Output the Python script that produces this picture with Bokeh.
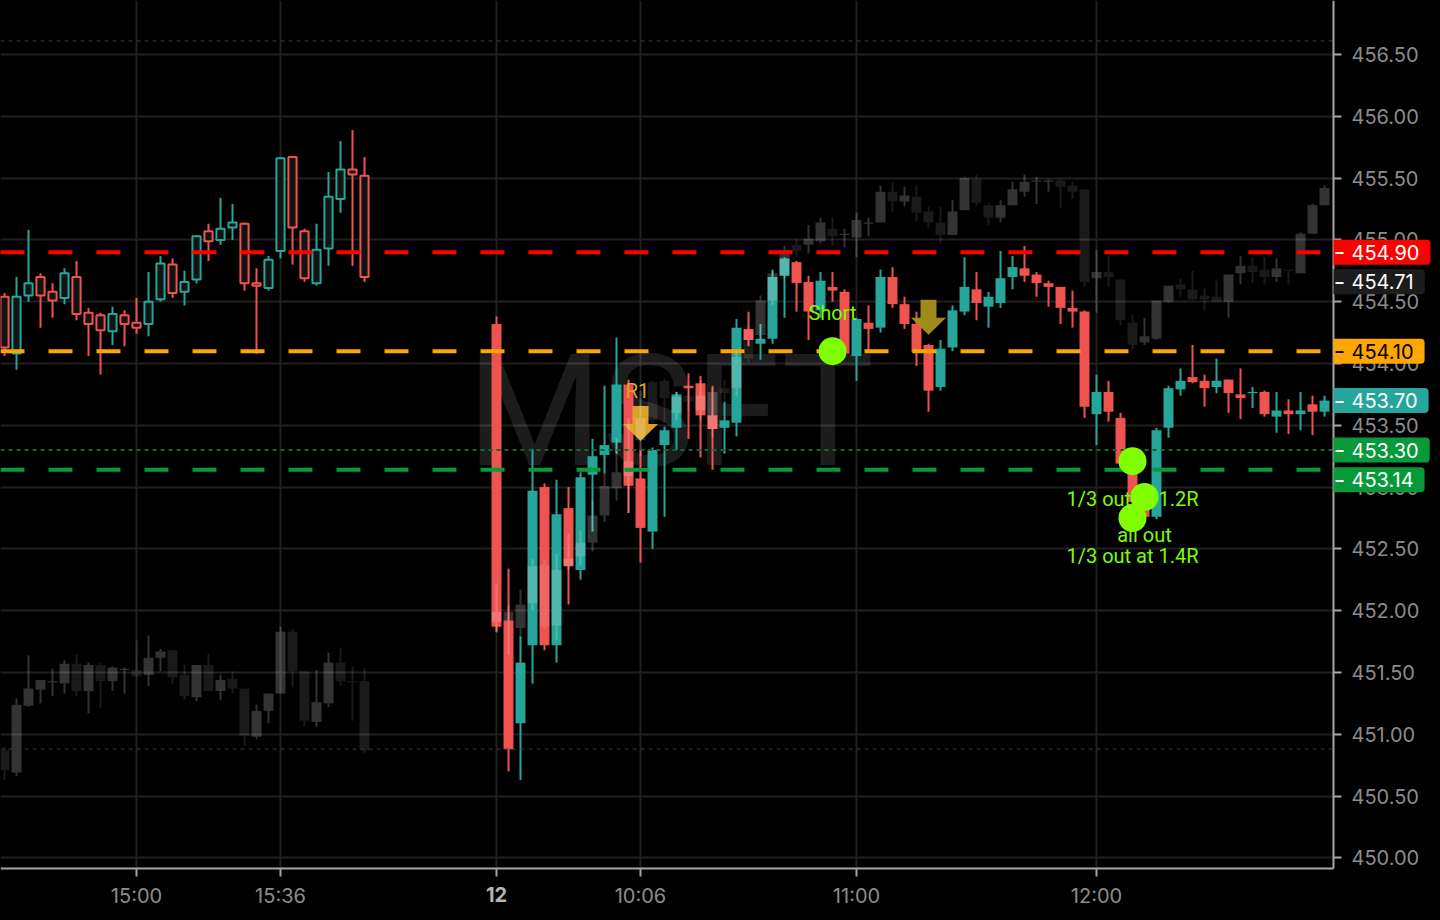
from bokeh.plotting import figure
from bokeh.models import FixedTicker, Label, NumeralTickFormatter
from bokeh.core.properties import value
from bokeh.embed import file_html
from bokeh.resources import INLINE

FONT = "Roboto"
AXFONT = "Inter"

# ---------------- axes ----------------
price_ticks = [450.0, 450.5, 451.0, 451.5, 452.0, 452.5, 453.0, 453.5,
               454.0, 454.5, 455.0, 455.5, 456.0, 456.5]
time_tick_slots = [11, 23, 41, 53, 71, 91]
time_tick_labels = ["15:00", "15:36", "12", "10:06", "11:00", "12:00"]

# 3-minute bars: slot 0 = 11th 14:27 ... slot 30 = 15:57 ; slot 41 = 12th 09:30 ... slot 110 = 12:57
slots_day1 = list(range(0, 31))
slots_day2 = list(range(41, 111))

# ---------------- MSFT (main, coloured) ----------------
main_open_1 = [454.54, 454.08, 454.55, 454.70, 454.58, 454.53, 454.70, 454.41, 454.39, 454.26,
               454.39, 454.33, 454.32, 454.52, 454.80, 454.58, 454.68, 455.07, 455.00, 455.10,
               455.13, 454.65, 454.61, 454.91, 455.67, 455.07, 454.65, 454.93, 455.33, 455.57, 455.52]
main_high_1 = [454.57, 454.70, 455.08, 454.73, 454.65, 454.77, 454.83, 454.45, 454.41, 454.46,
               454.43, 454.53, 454.74, 454.87, 454.85, 454.75, 455.04, 455.13, 455.34, 455.29,
               455.14, 454.77, 454.87, 455.67, 455.68, 455.09, 455.13, 455.55, 455.80, 455.89, 455.67]
main_low_1 = [454.06, 453.95, 454.50, 454.29, 454.37, 454.48, 454.35, 454.06, 453.91, 454.15,
              454.14, 454.24, 454.22, 454.50, 454.53, 454.47, 454.65, 454.83, 454.96, 455.00,
              454.59, 454.08, 454.59, 454.85, 454.80, 454.66, 454.63, 454.79, 455.22, 454.79, 454.66]
main_close_1 = [454.13, 454.54, 454.65, 454.55, 454.51, 454.73, 454.40, 454.32, 454.27, 454.40,
                454.32, 454.29, 454.50, 454.81, 454.57, 454.66, 455.03, 454.99, 455.09, 455.14,
                454.65, 454.63, 454.84, 455.66, 455.10, 454.69, 454.92, 455.35, 455.57, 455.53, 454.70]

main_open_2 = [454.32, 451.92, 451.09, 451.72, 453.00, 451.72, 452.83, 452.33, 453.10, 453.26,
               453.36, 453.83, 453.07, 452.64, 453.34, 453.48, 453.82, 453.84, 453.58, 453.48,
               453.52, 454.28, 454.16, 454.20, 454.71, 454.82, 454.66, 454.43, 454.62, 454.58,
               454.06, 454.33, 454.29, 454.70, 454.48, 454.32, 454.15, 453.81, 454.13, 454.42,
               454.60, 454.46, 454.49, 454.70, 454.77, 454.72, 454.65, 454.62, 454.45, 454.42,
               453.59, 453.77, 453.56, 453.19, 452.88, 452.76, 453.48, 453.79, 453.89, 453.86,
               453.81, 453.87, 453.75, 453.76, 453.77, 453.57, 453.62, 453.59, 453.67, 453.61]
main_high_2 = [454.38, 452.34, 451.79, 453.31, 453.03, 453.06, 453.00, 453.12, 453.39, 453.82,
               454.21, 453.87, 453.30, 453.32, 453.49, 453.77, 453.92, 453.90, 453.82, 453.69,
               454.36, 454.42, 454.32, 454.76, 454.86, 454.83, 454.71, 454.74, 454.74, 454.60,
               454.37, 454.47, 454.76, 454.78, 454.54, 454.42, 454.16, 454.19, 454.47, 454.86,
               454.74, 454.58, 454.91, 454.87, 454.95, 454.74, 454.67, 454.62, 454.59, 454.43,
               453.91, 453.86, 453.60, 453.22, 452.92, 453.48, 453.82, 453.96, 454.15, 453.91,
               454.04, 453.87, 453.96, 453.81, 453.78, 453.77, 453.71, 453.77, 453.74, 453.74]
main_low_2 = [451.83, 450.70, 450.63, 451.41, 451.68, 451.58, 452.05, 452.25, 452.64, 453.11,
              453.27, 452.79, 452.39, 452.50, 452.76, 453.30, 453.39, 453.24, 453.14, 453.27,
              453.41, 454.14, 454.03, 454.16, 454.37, 454.42, 454.19, 454.37, 454.50, 454.05,
              453.86, 454.09, 454.25, 454.45, 454.28, 453.98, 453.61, 453.78, 454.10, 454.39,
              454.35, 454.29, 454.45, 454.60, 454.66, 454.54, 454.46, 454.32, 454.29, 453.56,
              453.34, 453.53, 453.13, 452.85, 452.74, 452.74, 453.40, 453.74, 453.84, 453.65,
              453.76, 453.60, 453.55, 453.64, 453.57, 453.44, 453.43, 453.46, 453.42, 453.57]
main_close_2 = [451.87, 450.88, 451.58, 452.97, 451.72, 452.78, 452.36, 453.08, 453.25, 453.34,
                453.83, 453.01, 452.67, 453.30, 453.46, 453.75, 453.80, 453.58, 453.47, 453.54,
                454.29, 454.19, 454.20, 454.70, 454.85, 454.65, 454.42, 454.67, 454.59, 454.08,
                454.36, 454.28, 454.70, 454.48, 454.32, 454.09, 453.78, 454.12, 454.43, 454.62,
                454.49, 454.54, 454.69, 454.78, 454.71, 454.65, 454.62, 454.45, 454.42, 453.65,
                453.77, 453.61, 453.19, 452.88, 452.76, 453.46, 453.80, 453.86, 453.85, 453.80,
                453.86, 453.76, 453.72, 453.77, 453.59, 453.62, 453.59, 453.62, 453.61, 453.70]

# ---------------- overlay series (grey) ----------------
ov_open_1 = [450.87, 450.69, 451.23, 451.36, 451.42, 451.41, 451.57, 451.35, 451.56, 451.43,
             451.52, 451.52, 451.48, 451.62, 451.68, 451.48, 451.30, 451.56, 451.35, 451.45,
             451.37, 450.98, 451.19, 451.33, 451.83, 451.51, 451.10, 451.25, 451.58, 451.43, 451.43]
ov_high_1 = [450.90, 451.29, 451.64, 451.44, 451.53, 451.60, 451.65, 451.58, 451.58, 451.55,
             451.54, 451.76, 451.80, 451.69, 451.68, 451.56, 451.56, 451.65, 451.48, 451.51,
             451.37, 451.24, 451.33, 451.87, 451.85, 451.51, 451.52, 451.66, 451.70, 451.55, 451.54]
ov_low_1 = [450.63, 450.66, 451.22, 451.25, 451.31, 451.33, 451.31, 451.17, 451.21, 451.35,
            451.33, 451.46, 451.39, 451.51, 451.41, 451.28, 451.27, 451.35, 451.28, 451.33,
            450.91, 450.96, 451.09, 451.33, 451.38, 451.06, 451.06, 451.22, 451.39, 451.11, 450.85]
ov_close_1 = [450.71, 451.24, 451.37, 451.44, 451.43, 451.57, 451.35, 451.56, 451.43, 451.54,
              451.53, 451.47, 451.62, 451.67, 451.46, 451.31, 451.56, 451.35, 451.44, 451.37,
              450.99, 451.19, 451.33, 451.83, 451.51, 451.11, 451.26, 451.58, 451.43, 451.42, 450.87]

ov_open_2 = [451.91, 451.92, 451.86, 452.06, 452.37, 451.88, 452.36, 452.44, 452.55, 452.77,
             452.99, 453.09, 453.38, 453.85, 453.86, 453.60, 453.74, 453.62, 453.47, 453.80,
             453.80, 454.27, 454.23, 454.51, 454.71, 454.96, 454.96, 454.99, 455.09, 455.04,
             455.02, 455.13, 455.14, 455.39, 455.31, 455.35, 455.23, 455.14, 455.04, 455.24,
             455.49, 455.28, 455.18, 455.28, 455.39, 455.47, 455.47, 455.48, 455.44, 455.41,
             454.69, 454.74, 454.68, 454.33, 454.17, 454.20, 454.50, 454.64, 454.60, 454.55,
             454.54, 454.50, 454.73, 454.79, 454.76, 454.70, 454.76, 454.73, 455.05, 455.28]
ov_high_2 = [452.22, 452.04, 452.17, 452.42, 452.42, 452.46, 452.62, 452.65, 452.89, 453.11,
             453.40, 453.56, 453.78, 453.86, 453.88, 453.77, 453.82, 453.86, 453.80, 453.87,
             454.11, 454.31, 454.55, 454.75, 454.95, 455.01, 455.12, 455.18, 455.18, 455.09,
             455.22, 455.18, 455.44, 455.47, 455.43, 455.44, 455.27, 455.27, 455.32, 455.51,
             455.53, 455.30, 455.32, 455.47, 455.53, 455.51, 455.49, 455.49, 455.47, 455.41,
             454.92, 454.87, 454.68, 454.39, 454.37, 454.51, 454.63, 454.69, 454.75, 454.61,
             454.67, 454.72, 454.87, 454.86, 454.86, 454.85, 454.76, 455.06, 455.29, 455.44]
ov_low_2 = [451.82, 451.64, 451.78, 452.00, 451.85, 451.76, 452.33, 452.37, 452.48, 452.72,
            452.89, 452.79, 453.25, 453.52, 453.52, 453.54, 453.62, 453.54, 453.40, 453.70,
            453.74, 454.01, 454.19, 454.47, 454.69, 454.86, 454.89, 454.97, 454.95, 454.94,
            454.86, 455.03, 455.14, 455.23, 455.27, 455.15, 455.10, 454.97, 455.04, 455.24,
            455.28, 455.12, 455.14, 455.28, 455.35, 455.29, 455.39, 455.26, 455.33, 454.62,
            454.41, 454.62, 454.31, 454.11, 454.15, 454.19, 454.49, 454.54, 454.51, 454.43,
            454.50, 454.37, 454.64, 454.65, 454.64, 454.66, 454.64, 454.73, 455.05, 455.28]
ov_close_2 = [451.99, 451.99, 452.05, 452.36, 451.87, 452.33, 452.42, 452.55, 452.77, 453.01,
              453.12, 453.21, 453.56, 453.54, 453.72, 453.73, 453.69, 453.74, 453.77, 453.76,
              454.05, 454.04, 454.51, 454.73, 454.92, 454.91, 455.01, 455.14, 455.03, 455.05,
              455.16, 455.14, 455.39, 455.31, 455.36, 455.22, 455.14, 455.04, 455.23, 455.50,
              455.30, 455.18, 455.28, 455.41, 455.47, 455.48, 455.48, 455.43, 455.39, 454.66,
              454.74, 454.70, 454.35, 454.15, 454.22, 454.51, 454.63, 454.60, 454.52, 454.52,
              454.50, 454.72, 454.79, 454.74, 454.70, 454.77, 454.75, 455.05, 455.28, 455.42]

# ---------------- levels / annotations ----------------
level_stop = 454.90
level_entry = 454.10
level_target = 453.14
level_target_dotted = 453.30
level_grey_top = 456.61
level_grey_bottom = 450.88
last_main = 453.70
last_overlay = 454.71

arrow_slots = [53, 77]
arrow_text = ["R1", ""]
short_slot, short_price = 69, 454.10
exit_slots = [94, 95, 94]
exit_prices = [453.21, 452.92, 452.75]
exit_texts = ["1/3 out at 1.2R", "all out", "1/3 out at 1.4R"]

# ---------------- figure geometry ----------------
W, H = 1440, 920
PANE_W, PANE_H = 1333, 868          # chart pane; price scale to the right, time scale below
PXX = 12.0                          # pixels per bar slot
PXY = 123.6                         # pixels per dollar
X0 = -4 / PXX
X1 = X0 + W / PXX
Y1 = 456.5 + 54 / PXY
Y0 = Y1 - H / PXY
AXIS_X = X0 + PANE_W / PXX
AXIS_Y = Y1 - PANE_H / PXY

p = figure(width=W, height=H, x_range=(X0, X1), y_range=(Y0, Y1),
           y_axis_location="right", output_backend="svg", toolbar_location=None,
           background_fill_color="#000000", border_fill_color="#000000",
           outline_line_color=None, min_border=0, min_border_left=0, min_border_right=0,
           min_border_top=0, min_border_bottom=0)

GRID = "#202020"
AXC = "#a6a6a6"
p.xaxis.ticker = FixedTicker(ticks=time_tick_slots)
p.xaxis.major_label_overrides = {s: (t if t != "12" else "") for s, t in zip(time_tick_slots, time_tick_labels)}
p.yaxis.ticker = FixedTicker(ticks=price_ticks)
p.yaxis.formatter = NumeralTickFormatter(format="0.00")
p.yaxis.fixed_location = AXIS_X
p.xaxis.fixed_location = AXIS_Y
p.yaxis.bounds = (AXIS_Y, Y1)
p.xaxis.bounds = (X0, AXIS_X)
for ax in (p.xaxis[0], p.yaxis[0]):
    ax.axis_line_color = AXC
    ax.axis_line_width = 2
    ax.major_tick_line_color = AXC
    ax.major_tick_line_width = 2
    ax.major_tick_out = 8
    ax.major_tick_in = 0
    ax.minor_tick_line_color = None
    ax.major_label_text_color = "#8c8c8c"
    ax.major_label_text_font = AXFONT
    ax.major_label_text_font_size = "20px"
p.yaxis.major_label_standoff = 10
p.xaxis.major_label_standoff = 7
p.xgrid.grid_line_color = GRID
p.ygrid.grid_line_color = GRID
p.xgrid.grid_line_width = 2
p.ygrid.grid_line_width = 2

# keep the scale areas free of grid lines
p.quad(left=[AXIS_X], right=[X1], bottom=[Y0], top=[Y1], fill_color="#000000", line_color=None)
p.quad(left=[X0], right=[X1], bottom=[Y0], top=[AXIS_Y], fill_color="#000000", line_color=None)

# watermark
p.text(x=[55.5], y=[453.61], text=["MSFT"], text_font=value(FONT),
       text_font_size="155px", text_color="#ffffff", text_alpha=0.11,
       text_align="center", text_baseline="middle")

UP, DOWN = "#26a69a", "#ef5350"

def split(slots, o, h, l, c):
    d = dict(x=[], top=[], bot=[], hi=[], lo=[], up=[])
    for s, oo, hh, ll, cc in zip(slots, o, h, l, c):
        d["x"].append(s)
        d["top"].append(max(oo, cc))
        d["bot"].append(min(oo, cc))
        d["hi"].append(hh)
        d["lo"].append(ll)
        d["up"].append(cc >= oo)
    return d

# day 1 main: hollow candles
d1 = split(slots_day1, main_open_1, main_high_1, main_low_1, main_close_1)
col1 = [UP if u else DOWN for u in d1["up"]]
p.segment(x0=d1["x"], y0=d1["hi"], x1=d1["x"], y1=d1["top"], line_color=col1, line_width=2)
p.segment(x0=d1["x"], y0=d1["bot"], x1=d1["x"], y1=d1["lo"], line_color=col1, line_width=2)
p.vbar(x=d1["x"], width=0.68, top=d1["top"], bottom=d1["bot"], fill_color="#131313",
       line_color=col1, line_width=2)

# day 2 main: filled candles
d2 = split(slots_day2, main_open_2, main_high_2, main_low_2, main_close_2)
col2 = [UP if u else DOWN for u in d2["up"]]
p.segment(x0=d2["x"], y0=d2["hi"], x1=d2["x"], y1=d2["lo"], line_color=col2, line_width=2)
p.vbar(x=d2["x"], width=0.83, top=d2["top"], bottom=d2["bot"], fill_color=col2, line_color=None)

# arrows (pixel-sized, placed 9 px above the bar high)
arrow_cols = ["#e6a92a", "#a8911c"]
for s, txt, ac in zip(arrow_slots, arrow_text, arrow_cols):
    idx = slots_day2.index(s)
    tip = main_high_2[idx] + 9 / PXY
    dx = lambda px: px / PXX
    dy = lambda px: px / PXY
    xs = [s - dx(8), s + dx(8), s + dx(8), s + dx(17.5), s, s - dx(17.5), s - dx(8)]
    ys = [tip + dy(35), tip + dy(35), tip + dy(17), tip + dy(17), tip, tip + dy(17), tip + dy(17)]
    p.patch(xs, ys, fill_color=ac, fill_alpha=0.95, line_color=None)
    if txt:
        p.text(x=[s], y=[tip], text=[txt], x_offset=-3, y_offset=-50, text_font=value(FONT),
               text_font_size="20px", text_color="#d9a62b", text_align="center",
               text_baseline="middle")

# overlay series, translucent grey on top
ov_slots = slots_day1 + slots_day2
od = split(ov_slots, ov_open_1 + ov_open_2, ov_high_1 + ov_high_2,
           ov_low_1 + ov_low_2, ov_close_1 + ov_close_2)
oalpha = [0.2 if u else 0.1 for u in od["up"]]
p.segment(x0=od["x"], y0=od["hi"], x1=od["x"], y1=od["top"], line_color="#ffffff",
          line_alpha=oalpha, line_width=2)
p.segment(x0=od["x"], y0=od["bot"], x1=od["x"], y1=od["lo"], line_color="#ffffff",
          line_alpha=oalpha, line_width=2)
p.vbar(x=od["x"], width=0.83, top=od["top"], bottom=od["bot"], fill_color="#ffffff",
       fill_alpha=oalpha, line_color=None)

# horizontal levels (across the chart pane)
for loc, colr, dash, lw in [
        (level_grey_top, "#3c3c3c", "4 4", 1),
        (level_grey_bottom, "#3c3c3c", "4 4", 1),
        (level_target_dotted, "#15632d", "4 4", 2),
        (level_stop, "#ff0000", "24 24", 4),
        (level_entry, "#ffa500", "24 24", 4),
        (level_target, "#089a3a", "24 24", 4)]:
    p.segment(x0=[X0], y0=[loc], x1=[AXIS_X], y1=[loc], line_color=colr, line_dash=dash,
              line_width=lw)

GREEN_TXT = "#7cfc00"
p.text(x=[short_slot], y=[short_price], text=["Short"], y_offset=-38, text_font=value(FONT),
       text_font_size="20px", text_color=GREEN_TXT, text_align="center", text_baseline="middle")
p.text(x=exit_slots, y=exit_prices, text=exit_texts, y_offset=38, text_font=value(FONT),
       text_font_size="20px", text_color=GREEN_TXT, text_align="center", text_baseline="middle")
p.scatter(x=[short_slot] + exit_slots, y=[short_price] + exit_prices, size=28,
          fill_color="#80ff00", line_color=None)

# price labels on the price scale
for price, bg, fg, yoff in [(level_stop, "#ff0000", "#ffffff", 0),
                            (last_overlay, "#1c1c1c", "#ffffff", -6),
                            (level_entry, "#ffa500", "#000000", 0),
                            (last_main, "#26a69a", "#ffffff", 0),
                            (level_target_dotted, "#089a3a", "#ffffff", 0),
                            (level_target, "#089a3a", "#ffffff", -10)]:
    p.add_layout(Label(x=AXIS_X, y=price, y_offset=yoff, text=f"{price:.2f}", text_font=AXFONT,
                       text_font_size="20px", text_color=fg, text_align="left",
                       text_baseline="middle", background_fill_color=bg,
                       padding=dict(left=18, right=11, top=5, bottom=5),
                       border_radius=dict(top_left=0, top_right=4, bottom_right=4, bottom_left=0)))
    p.add_layout(Label(x=AXIS_X, y=price, y_offset=yoff, x_offset=2, text="\u2013", text_font=AXFONT,
                       text_font_size="16px", text_font_style="bold", text_color=fg,
                       text_align="left", text_baseline="middle"))

# bold day label on the time scale
p.add_layout(Label(x=41, y=AXIS_Y, y_offset=-26, text="12", text_font=AXFONT, text_font_size="20px",
                   text_font_style="bold", text_color="#b4b4b4", text_align="center",
                   text_baseline="middle"))

html = file_html(p, INLINE, title="MSFT")
html = html.replace("</head>", "<style>html,body{background:#000000;}</style></head>")
open("out.html", "w").write(html)
